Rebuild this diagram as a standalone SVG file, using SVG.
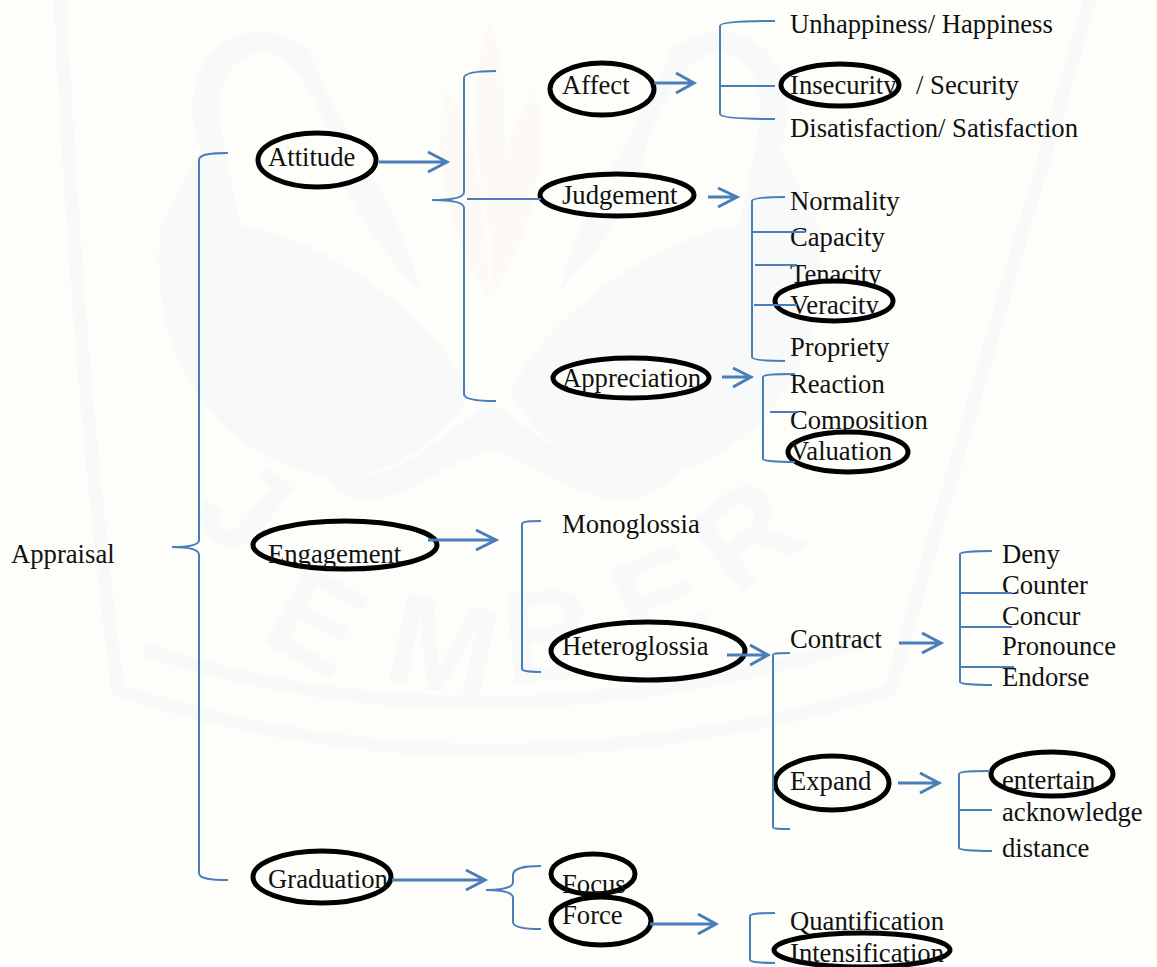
<svg xmlns="http://www.w3.org/2000/svg" width="1157" height="967" viewBox="0 0 1157 967">
<style>
text{font-family:"Liberation Serif","Times New Roman",serif;font-size:26.67px;fill:#111}
ellipse{fill:#fdfef9;stroke:#000;stroke-width:5}
.c path{fill:none;stroke:#4a7ebb;stroke-width:2}
.c .a{stroke-width:3}
.w{fill:#f8f9f9}
.p{fill:#fdfaf6}
.b{fill:none;stroke:#f8f9f8;stroke-width:13}
text.m{font-family:"Liberation Sans",sans-serif;font-size:130px;font-weight:bold;fill:#f8f9f8;text-anchor:middle}
</style>
<rect width="1157" height="967" fill="#fdfef9"/>
<g id="watermark">
<path class="b" d="M60 0Q80 400 118 690Q480 810 890 690L1090 0"/>
<path class="b" d="M145 650Q480 760 870 640"/>
<path class="w" d="M160 230C150 340 200 440 300 470C350 490 420 470 470 395C440 320 330 240 240 225C230 160 200 90 240 60C280 30 320 90 340 170C360 230 400 270 420 290C400 200 330 120 310 50C240 0 170 60 200 150Z"/>
<path class="w" d="M820 230C830 340 780 440 680 470C630 490 560 470 510 395C540 320 650 240 740 225C750 160 780 90 740 60C700 30 660 90 640 170C620 230 580 270 560 290C580 200 650 120 670 50C740 0 810 60 780 150Z"/>
<path class="w" d="M320 470C380 500 450 430 490 400C530 430 610 500 680 470C620 540 560 470 490 450C420 470 370 540 320 470Z"/>
<path class="p" d="M490 20C510 70 510 150 495 260C470 150 470 70 490 20ZM445 90C475 130 485 190 490 300C450 240 430 160 445 90ZM535 90C550 160 530 240 490 300C495 190 505 130 535 90Z"/>
<text class="m" transform="translate(216 540) rotate(40)">J</text>
<text class="m" transform="translate(296 660) rotate(28)">E</text>
<text class="m" transform="translate(434 690) rotate(12)">M</text>
<text class="m" transform="translate(553 680) rotate(-5)">B</text>
<text class="m" transform="translate(676 640) rotate(-22)">E</text>
<text class="m" transform="translate(773 570) rotate(-38)">R</text>
</g>
<g id="appraisal"><text x="11" y="563">Appraisal</text></g>
<g id="attitude"><ellipse cx="317" cy="160" rx="59" ry="27"/><text x="268" y="166">Attitude</text></g>
<g id="affect"><ellipse cx="602" cy="89" rx="52" ry="26"/><text x="562" y="94">Affect</text></g>
<g id="unhappiness"><text x="790" y="33">Unhappiness/ Happiness</text></g>
<g id="insecurity"><ellipse cx="840" cy="85" rx="59" ry="21"/><text x="790" y="94">Insecurity</text><text x="916" y="94">/ Security</text></g>
<g id="disatisfaction"><text x="790" y="137">Disatisfaction/ Satisfaction</text></g>
<g id="judgement"><ellipse cx="617" cy="195" rx="77" ry="21"/><text x="562" y="204">Judgement</text></g>
<g id="normality"><text x="790" y="210">Normality</text></g>
<g id="capacity"><text x="790" y="246">Capacity</text></g>
<g id="tenacity"><text x="790" y="283">Tenacity</text></g>
<g id="veracity"><ellipse cx="834" cy="301" rx="59" ry="20"/><text x="790" y="314">Veracity</text></g>
<g id="propriety"><text x="790" y="356">Propriety</text></g>
<g id="appreciation"><ellipse cx="631" cy="378" rx="78" ry="20"/><text x="562" y="387">Appreciation</text></g>
<g id="reaction"><text x="790" y="393">Reaction</text></g>
<g id="composition"><text x="790" y="429">Composition</text></g>
<g id="valuation"><ellipse cx="848" cy="452" rx="60" ry="20"/><text x="790" y="460">Valuation</text></g>
<g id="engagement"><ellipse cx="345" cy="545" rx="92" ry="24"/><text x="268" y="563">Engagement</text></g>
<g id="monoglossia"><text x="562" y="533">Monoglossia</text></g>
<g id="heteroglossia"><ellipse cx="648" cy="651" rx="97" ry="29"/><text x="562" y="655">Heteroglossia</text></g>
<g id="contract"><text x="790" y="648">Contract</text></g>
<g id="deny"><text x="1002" y="563">Deny</text></g>
<g id="counter"><text x="1002" y="594">Counter</text></g>
<g id="concur"><text x="1002" y="625">Concur</text></g>
<g id="pronounce"><text x="1002" y="655">Pronounce</text></g>
<g id="endorse"><text x="1002" y="686">Endorse</text></g>
<g id="expand"><ellipse cx="832" cy="783" rx="57" ry="27"/><text x="790" y="790">Expand</text></g>
<g id="entertain"><ellipse cx="1052" cy="774" rx="61" ry="22"/><text x="1002" y="789">entertain</text></g>
<g id="acknowledge"><text x="1002" y="821">acknowledge</text></g>
<g id="distance"><text x="1002" y="857">distance</text></g>
<g id="graduation"><ellipse cx="322" cy="877" rx="69" ry="26"/><text x="268" y="888">Graduation</text></g>
<g id="focus"><ellipse cx="593" cy="874" rx="42" ry="20"/><text x="562" y="893">Focus</text></g>
<g id="force"><ellipse cx="601" cy="921" rx="50" ry="24"/><text x="562" y="924">Force</text></g>
<g id="quantification"><text x="790" y="930">Quantification</text></g>
<g id="intensification"><ellipse cx="862" cy="950" rx="88" ry="17"/><text x="790" y="962">Intensification</text></g>
<g id="connectors" class="c">
<path d="M228 153C212 153 199 154 199 160V540C199 545 188 547 172 547C188 547 199 549 199 555V873C199 879 212 880 228 880"/>
<path d="M496 71C480 71 464 72 464 78V192C464 198 450 200 432 200C450 200 464 202 464 208V394C464 400 480 401 496 401"/>
<path d="M467 199H541"/>
<path d="M775 21C748 21 720 22 720 26V114C720 118 748 119 775 119M720 86H775"/>
<path d="M785 197C768 197 752 198 752 201V357C752 360 768 361 785 361M752 232H805M755 265H797M754 305H797"/>
<path d="M795 374C779 374 763 374 763 377V459C763 461 779 462 795 462M770 412H796"/>
<path d="M541 521C531 521 522 521 522 524V669C522 671 531 672 541 672"/>
<path d="M790 653C781 653 773 653 773 655V827C773 829 781 829 790 829"/>
<path d="M992 551C976 551 960 552 960 554V682C960 684 976 685 992 685M960 593H1012M960 627H1012M960 667H1014"/>
<path d="M990 771C974 771 959 771 959 774V848C959 850 975 851 992 851M959 810H992"/>
<path d="M541 866C527 866 513 867 513 875V882C513 888 500 890 486 890C500 890 513 892 513 898V922C513 928 527 929 541 929"/>
<path d="M775 913C762 913 750 913 750 916V960C750 962 762 963 775 963"/>
<path class="a" d="M379 162H447M428 152L447 162L428 172"/>
<path class="a" d="M654 83H694M676 73L694 83L676 93"/>
<path class="a" d="M708 197H737M718 188L737 197L718 207"/>
<path class="a" d="M722 377H751M733 368L751 377L733 387"/>
<path class="a" d="M428 540H496M476 530L496 540L476 550"/>
<path class="a" d="M727 655H768M750 645L768 655L750 665"/>
<path class="a" d="M899 643H941M922 633L941 643L922 653"/>
<path class="a" d="M898 783H939M920 773L939 783L920 793"/>
<path class="a" d="M392 880H485M466 870L485 880L466 890"/>
<path class="a" d="M650 924H716M698 914L716 924L698 934"/>
</g>
</svg>
